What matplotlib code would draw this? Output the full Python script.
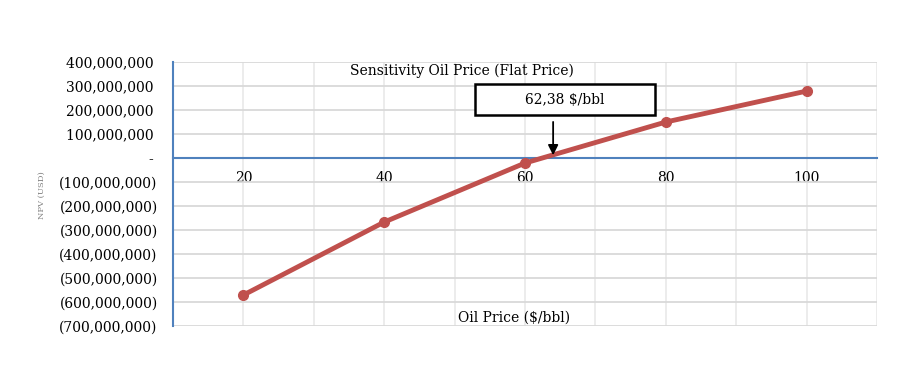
import matplotlib.pyplot as plt
from matplotlib.patches import Rectangle
from matplotlib.ticker import FuncFormatter

# 数据
oil_price = [20, 40, 60, 80, 100]
npv = [-571e6, -267e6, -21e6, 150e6, 279e6]
breakeven_label = "62,38 $/bbl"
breakeven_x = 64

plt.rcParams['font.family'] = ['DejaVu Serif']

RED = '#C0504D'
BLUE = '#4F81BD'
GRID = '#D9D9D9'
VGRID = '#EAEAEA'


def npv_fmt(v, pos):
    if abs(v) < 1:
        return '- '
    if v < 0:
        return f'({abs(v):,.0f})'
    return f'{v:,.0f} '


fig = plt.figure(figsize=(9, 3.76), dpi=100)
ax = fig.add_axes([0.1922, 0.133, 0.7822, 0.702])

ax.plot(oil_price, npv, color=RED, lw=3.5, marker='o', ms=7, zorder=3)

ax.set_xlim(10, 110)
ax.set_ylim(-700e6, 400e6)
ax.set_yticks(range(-700_000_000, 400_000_001, 100_000_000))
ax.yaxis.set_major_formatter(FuncFormatter(npv_fmt))
ax.set_xticks(range(10, 111, 10))
ax.set_xticklabels([str(t) if t in oil_price else '' for t in range(10, 111, 10)])

ax.grid(True, axis='y', color=GRID, lw=1.3)
ax.grid(True, axis='x', color=VGRID, lw=1.3)
ax.set_axisbelow(True)
for s in ['top', 'right']:
    ax.spines[s].set_visible(False)
ax.spines['left'].set_color(BLUE)
ax.spines['left'].set_linewidth(1.5)
ax.spines['bottom'].set_position(('data', 0))
ax.spines['bottom'].set_color(BLUE)
ax.spines['bottom'].set_linewidth(1.5)
ax.tick_params(axis='y', length=0, pad=11, labelsize=10)
ax.tick_params(axis='x', length=0, pad=9, labelsize=10)

ax.text(0.41, 0.965, 'Sensitivity Oil Price (Flat Price)', transform=ax.transAxes,
        ha='center', va='center', fontsize=10)
ax.text(0.485, 0.03, 'Oil Price ($/bbl)', transform=ax.transAxes,
        ha='center', va='center', fontsize=10)
fig.text(0.047, 0.48, 'NPV (USD)', rotation=90, ha='center', va='center',
         fontsize=6, color='#808080')

# 盈亏平衡标注
ax.annotate('', xy=(breakeven_x, 0), xytext=(breakeven_x, 1.62e8),
            arrowprops=dict(arrowstyle='-|>', color='black', lw=1.3, mutation_scale=15))
ax.add_patch(Rectangle((52.9, 1.79e8), 25.6, 1.29e8, fc='white', ec='black',
                       lw=1.8, zorder=4))
ax.text(65.6, 2.43e8, breakeven_label, ha='center', va='center', fontsize=10, zorder=5)

fig.savefig('out.png')
